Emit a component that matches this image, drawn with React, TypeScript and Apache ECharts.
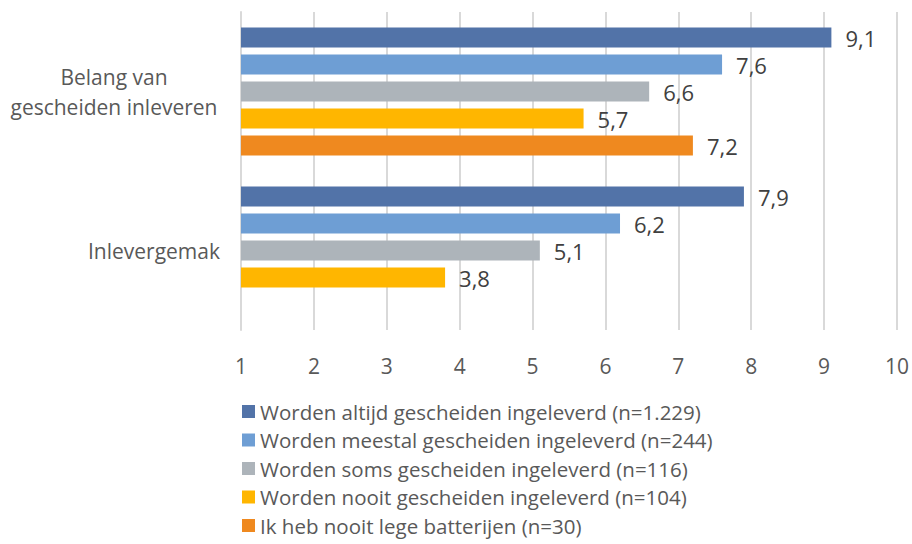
import React, { useEffect, useRef } from "react";
import * as echarts from "echarts";

const categories = ["Belang van gescheiden inleveren", "Inlevergemak"];
const seriesNames = [
  "Worden altijd gescheiden ingeleverd (n=1.229)",
  "Worden meestal gescheiden ingeleverd (n=244)",
  "Worden soms gescheiden ingeleverd (n=116)",
  "Worden nooit gescheiden ingeleverd (n=104)",
  "Ik heb nooit lege batterijen (n=30)",
];
const altijd = [9.1, 7.9];
const meestal = [7.6, 6.2];
const soms = [6.6, 5.1];
const nooit = [5.7, 3.8];
const geenBatterijen: (number | null)[] = [7.2, null];
const colors = ["#5273A8", "#6E9ED4", "#ADB4BA", "#FFB600", "#EF891F"];
const xTicks = [1, 2, 3, 4, 5, 6, 7, 8, 9, 10];

const FONT = "'Open Sans', 'Noto Sans', sans-serif";

export default function App() {
  const ref = useRef<HTMLDivElement>(null);
  useEffect(() => {
    if (!ref.current) return;
    const chart = echarts.init(ref.current, null, { renderer: "svg" });
    const values = [altijd, meestal, soms, nooit, geenBatterijen];
    chart.setOption({
      animation: false,
      textStyle: { fontFamily: FONT },
      grid: { left: 241, right: 13, top: 12, bottom: 214, containLabel: false },
      xAxis: {
        type: "value",
        min: xTicks[0],
        max: xTicks[xTicks.length - 1],
        interval: 1,
        axisLine: { show: false },
        axisTick: { show: false },
        axisLabel: { color: "#595959", fontSize: 21, margin: 25, fontFamily: FONT },
        splitLine: { show: true, lineStyle: { color: "#D9D9D9", width: 2 } },
      },
      yAxis: {
        type: "category",
        data: categories,
        inverse: true,
        axisLine: { show: true, lineStyle: { color: "#D9D9D9", width: 2 } },
        axisTick: { show: false },
        axisLabel: {
          color: "#595959",
          fontSize: 21,
          margin: 21,
          fontFamily: FONT,
          formatter: (v: string) =>
            v === categories[0]
              ? "{a|Belang van}\n{a|gescheiden inleveren}"
              : v,
          rich: {
            a: { width: 212, align: "center", fontSize: 21, color: "#595959", lineHeight: 30, fontFamily: FONT },
          },
        },
      },
      legend: {
        orient: "vertical",
        left: 237,
        top: 396,
        itemWidth: 13,
        itemHeight: 13,
        itemGap: 7.5,
        icon: "rect",
        textStyle: { color: "#595959", fontSize: 20.5, lineHeight: 20, fontFamily: FONT },
        data: seriesNames,
      },
      series: seriesNames.map((name, i) => ({
        name,
        type: "bar",
        data: values[i],
        barWidth: 20,
        barGap: "35%",
        itemStyle: { color: colors[i] },
        label: {
          show: true,
          position: "right",
          distance: 14,
          color: "#404040",
          fontSize: 22,
          fontFamily: FONT,
          formatter: (p: any) => (p.value == null ? "" : Number(p.value).toFixed(1).replace(".", ",")),
        },
      })),
    });
    return () => chart.dispose();
  }, []);
  return <div ref={ref} style={{ width: 912, height: 544, position: "absolute", left: 0, top: 0 }} />;
}
